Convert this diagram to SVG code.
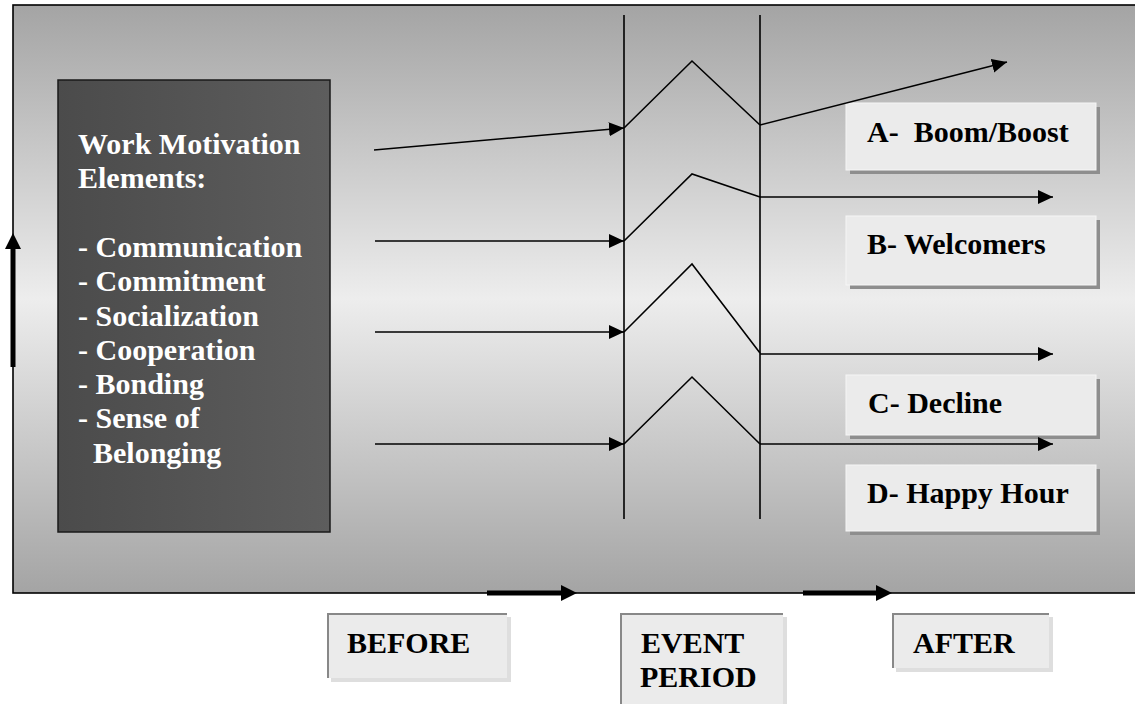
<svg xmlns="http://www.w3.org/2000/svg" width="1135" height="704" viewBox="0 0 1135 704">
  <defs>
    <linearGradient id="bgGrad" x1="0" y1="5" x2="0" y2="593" gradientUnits="userSpaceOnUse">
      <stop offset="0" stop-color="#a4a4a4"/>
      <stop offset="0.5" stop-color="#ededed"/>
      <stop offset="1" stop-color="#a4a4a4"/>
    </linearGradient>
    <linearGradient id="darkGrad" x1="0" y1="0" x2="1" y2="0">
      <stop offset="0" stop-color="#4b4b4b"/>
      <stop offset="1" stop-color="#5d5d5d"/>
    </linearGradient>
    <marker id="thin" markerUnits="userSpaceOnUse" markerWidth="16" markerHeight="15" refX="15" refY="7" orient="auto">
      <path d="M0,0 L15,7 L0,14 z" fill="#000"/>
    </marker>
    <marker id="thick" markerUnits="userSpaceOnUse" markerWidth="17" markerHeight="17" refX="0" refY="8" orient="auto">
      <path d="M0,0 L16,8 L0,16 z" fill="#000"/>
    </marker>
  </defs>
  <style>
    .ln { stroke: #000; stroke-width: 1.6; fill: none; }
    .arr { stroke: #000; stroke-width: 1.6; fill: none; marker-end: url(#thin); }
    .big { stroke: #000; stroke-width: 5; fill: none; marker-end: url(#thick); }
    .lbl { font-family: "Liberation Serif", "Times New Roman", serif; font-weight: bold; font-size: 30px; fill: #000; }
    .wt { font-family: "Liberation Serif", "Times New Roman", serif; font-weight: bold; font-size: 30px; fill: #fff; }
    .card { fill: #ebebeb; }
    .cardShadow { fill: #8e8e8e; }
    .tabShadow { fill: #dedede; }
    .tabEdge { stroke: #888; stroke-width: 2; fill: none; }
  </style>

  <!-- white page -->
  <rect x="0" y="0" width="1135" height="704" fill="#fff"/>

  <!-- shaded frame -->
  <g id="frame">
    <rect x="13" y="5" width="1130" height="588" fill="url(#bgGrad)" stroke="#000" stroke-width="1.6"/>
  </g>

  <!-- element box -->
  <g id="elements">
    <rect x="58" y="80" width="272" height="452" fill="url(#darkGrad)" stroke="#1a1a1a" stroke-width="1.5"/>
    <text class="wt" x="78" y="154">Work Motivation</text>
    <text class="wt" x="78" y="188.3">Elements:</text>
    <text class="wt" x="78" y="256.9">- Communication</text>
    <text class="wt" x="78" y="291.2">- Commitment</text>
    <text class="wt" x="78" y="325.5">- Socialization</text>
    <text class="wt" x="78" y="359.8">- Cooperation</text>
    <text class="wt" x="78" y="394.1">- Bonding</text>
    <text class="wt" x="78" y="428.4">- Sense of</text>
    <text class="wt" x="93" y="462.7">Belonging</text>
  </g>

  <!-- outcome cards -->
  <g id="cardA">
    <rect class="cardShadow" x="850" y="107" width="250" height="67"/>
    <rect class="card" x="846" y="103" width="250" height="67" stroke="#f6f6f6" stroke-width="1"/>
    <text class="lbl" x="867" y="142" xml:space="preserve">A-  Boom/Boost</text>
  </g>
  <g id="cardB">
    <rect class="cardShadow" x="850" y="220" width="250" height="69"/>
    <rect class="card" x="846" y="216" width="250" height="69" stroke="#f6f6f6" stroke-width="1"/>
    <text class="lbl" x="867" y="254">B- Welcomers</text>
  </g>
  <g id="cardC">
    <rect class="cardShadow" x="850" y="379" width="250" height="60"/>
    <rect class="card" x="846" y="375" width="250" height="60" stroke="#f6f6f6" stroke-width="1"/>
    <text class="lbl" x="868" y="413">C- Decline</text>
  </g>
  <g id="cardD">
    <rect class="cardShadow" x="850" y="469" width="250" height="66"/>
    <rect class="card" x="846" y="465" width="250" height="66" stroke="#f6f6f6" stroke-width="1"/>
    <text class="lbl" x="867" y="503">D- Happy Hour</text>
  </g>

  <!-- phase tabs -->
  <g id="before">
    <rect class="tabShadow" x="331" y="617" width="180" height="65"/>
    <rect class="card" x="327" y="613" width="180" height="65"/>
    <path class="tabEdge" d="M328,678 V614 H507"/>
    <text class="lbl" x="347" y="653">BEFORE</text>
  </g>
  <g id="event">
    <rect class="tabShadow" x="624" y="617" width="163" height="90"/>
    <rect class="card" x="620" y="613" width="163" height="95"/>
    <path class="tabEdge" d="M621,708 V614 H783"/>
    <text class="lbl" x="641" y="653">EVENT</text>
    <text class="lbl" x="640" y="687">PERIOD</text>
  </g>
  <g id="after">
    <rect class="tabShadow" x="896" y="617" width="157" height="55"/>
    <rect class="card" x="892" y="613" width="157" height="55"/>
    <path class="tabEdge" d="M893,668 V614 H1049"/>
    <text class="lbl" x="913" y="653">AFTER</text>
  </g>

  <!-- connectors -->
  <g id="connectors">
    <!-- event period boundaries -->
    <line class="ln" x1="624" y1="15" x2="624" y2="519"/>
    <line class="ln" x1="760" y1="15" x2="760" y2="519"/>

    <!-- inputs into the event -->
    <line class="arr" x1="374" y1="150" x2="624" y2="128"/>
    <line class="arr" x1="375" y1="241" x2="624" y2="241"/>
    <line class="arr" x1="375" y1="332" x2="624" y2="332"/>
    <line class="arr" x1="375" y1="444" x2="624" y2="444"/>

    <!-- reactions during the event -->
    <polyline class="ln" points="624,128 692,61 760,125"/>
    <polyline class="ln" points="624,241 692,174 760,197"/>
    <polyline class="ln" points="624,332 692,264 760,353"/>
    <polyline class="ln" points="624,444 692,377 760,444"/>

    <!-- outcomes after the event -->
    <line class="arr" x1="760" y1="125" x2="1007" y2="62"/>
    <line class="arr" x1="760" y1="197" x2="1053" y2="197"/>
    <line class="arr" x1="760" y1="354" x2="1053" y2="354"/>
    <line class="arr" x1="760" y1="444" x2="1053" y2="444"/>

    <!-- axis arrows -->
    <line class="big" x1="13" y1="367" x2="13" y2="249"/>
    <line class="big" x1="487" y1="593" x2="561" y2="593"/>
    <line class="big" x1="803" y1="593" x2="876" y2="593"/>
  </g>
</svg>
